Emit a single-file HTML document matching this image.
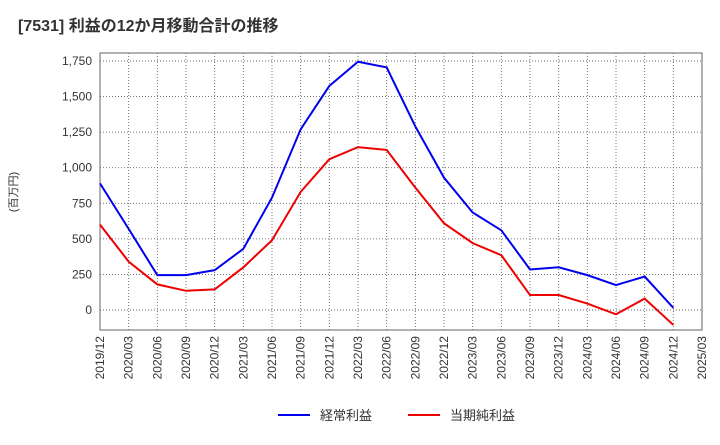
<!DOCTYPE html>
<html><head><meta charset="utf-8"><style>
body{margin:0;background:#fff;font-family:"Liberation Sans","Noto Sans CJK JP",sans-serif}
</style></head><body>
<svg width="720" height="440" xmlns="http://www.w3.org/2000/svg" font-family="Liberation Sans, Noto Sans CJK JP, sans-serif">
<text x="18" y="31" font-size="16" font-weight="bold" fill="#333">[7531]  利益の12か月移動合計の推移</text>
<text transform="translate(17,192) rotate(-90)" font-size="11" fill="#333" text-anchor="middle">(百万円)</text>
<g id="grid"></g><g id="axes"></g><g id="series"></g>
<g>
<line x1="278" y1="415" x2="310" y2="415" stroke="#0000ee" stroke-width="2"/>
<text x="320" y="420" font-size="13" fill="#333">経常利益</text>
<line x1="408" y1="415" x2="440" y2="415" stroke="#ee0000" stroke-width="2"/>
<text x="450" y="420" font-size="13" fill="#333">当期純利益</text>
</g>
</svg>
<script>
const categories=["2019/12","2020/03","2020/06","2020/09","2020/12","2021/03","2021/06","2021/09","2021/12","2022/03","2022/06","2022/09","2022/12","2023/03","2023/06","2023/09","2023/12","2024/03","2024/06","2024/09","2024/12","2025/03"];
const keijo=[890,570,245,245,280,430,790,1270,1575,1745,1705,1290,930,685,560,285,300,245,175,235,15];
const junrieki=[600,340,180,135,145,300,490,830,1060,1145,1125,860,610,470,385,105,105,45,-30,80,-105];
const yTicks=[0,250,500,750,1000,1250,1500,1750];
const yTickLabels=["0","250","500","750","1,000","1,250","1,500","1,750"];
const L=100,R=702,T=53,B=330;
const x=i=>L+(R-L)*i/(categories.length-1);
const y=v=>310-v*(249/1750);
const ns="http://www.w3.org/2000/svg";
function mk(t,a,p){const e=document.createElementNS(ns,t);for(const k in a)e.setAttribute(k,a[k]);p.appendChild(e);return e;}
const g=document.getElementById('grid'),ax=document.getElementById('axes'),s=document.getElementById('series');
categories.forEach((c,i)=>{
 const l=mk('line',{x1:x(i),x2:x(i),y1:T,y2:B,stroke:'#666','stroke-dasharray':'1,2','stroke-width':0.9},g);
 
 
 const t=mk('text',{transform:`translate(${x(i)+4},${B+6}) rotate(-90)`,'font-size':12,fill:'#333','text-anchor':'end'},ax);
 t.textContent=c;
 
 
});
yTicks.forEach((v,i)=>{
 const l=mk('line',{x1:L,x2:R,y1:y(v),y2:y(v),stroke:'#666','stroke-dasharray':'1,2','stroke-width':0.9},g);
 
 
 const t=mk('text',{x:L-8,y:y(v)+4,'font-size':12,fill:'#333','text-anchor':'end'},ax);
 t.textContent=yTickLabels[i];
 
 
});
const fr=mk('rect',{x:L,y:T,width:R-L,height:B-T,fill:'none',stroke:'#666','stroke-width':1},ax);


function line(d,col,name){
 const p=mk('polyline',{points:d.map((v,i)=>x(i)+','+y(v)).join(' '),fill:'none',stroke:col,'stroke-width':2},s);
 
 
}
line(keijo,'#0000ee','keijo-line');
line(junrieki,'#ee0000','junrieki-line');
</script>
</body></html>
